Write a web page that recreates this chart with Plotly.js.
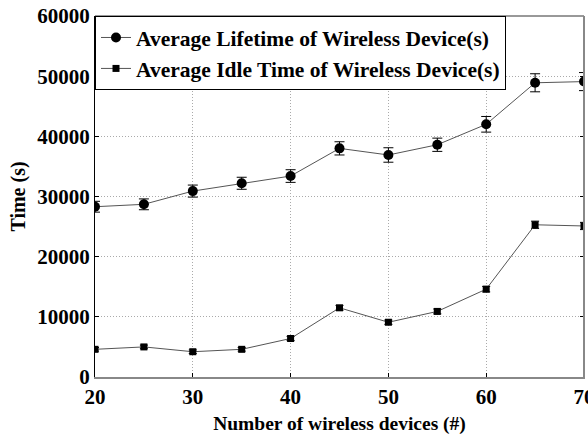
<!DOCTYPE html>
<html>
<head>
<meta charset="utf-8">
<script src="https://cdn.plot.ly/plotly-3.0.1.min.js"></script>
<style>html,body{margin:0;padding:0;background:#fff;}#chart{width:588px;height:437px;}</style>
</head>
<body>
<div id="chart"></div>
<script>
const devices = [20, 25, 30, 35, 40, 45, 50, 55, 60, 65, 70];
const lifetime = [28300, 28700, 30900, 32200, 33400, 38000, 36900, 38600, 42000, 48900, 49100];
const lifetimeErr = [900, 900, 1000, 1000, 1050, 1100, 1200, 1100, 1300, 1500, 1500];
const idle = [4600, 5000, 4200, 4600, 6400, 11500, 9100, 10900, 14600, 25300, 25100];
const idleErr = [300, 300, 300, 300, 350, 400, 350, 400, 450, 600, 600];
const seriesNames = ['Average Lifetime of Wireless Device(s)', 'Average Idle Time of Wireless Device(s)'];

const fam = 'Liberation Serif, Times New Roman, serif';
const f = (s) => ({family: fam, size: s, color: '#000', weight: 'bold'});

const traces = [
  {x: devices, y: lifetime, name: seriesNames[0], type: 'scatter', mode: 'lines+markers',
   line: {color: '#555', width: 1}, marker: {symbol: 'circle', size: 10, color: '#000'},
   error_y: {type: 'data', array: lifetimeErr, visible: true, color: '#000', thickness: 1, width: 5}},
  {x: devices, y: idle, name: seriesNames[1], type: 'scatter', mode: 'lines+markers',
   line: {color: '#555', width: 1}, marker: {symbol: 'square', size: 7, color: '#000'},
   error_y: {type: 'data', array: idleErr, visible: true, color: '#000', thickness: 1, width: 4}}
];

const layout = {
  width: 588, height: 437,
  margin: {l: 95, r: 4, t: 16, b: 60},
  paper_bgcolor: '#fff', plot_bgcolor: '#fff',
  font: f(19),
  showlegend: true,
  legend: {x: 0, y: 1, xanchor: 'left', yanchor: 'top', bgcolor: '#fff', bordercolor: '#000', borderwidth: 1,
           font: f(21.5), itemwidth: 30, tracegroupgap: 0},
  xaxis: {range: [20, 70], tickvals: [20, 30, 40, 50, 60, 70], ticks: 'inside', ticklen: 4, tickcolor: '#000',
          showline: true, linecolor: '#888', linewidth: 2, mirror: false, ticklabeloverflow: 'allow',
          showgrid: true, gridcolor: '#aaa', griddash: '1px,2px', gridwidth: 1, zeroline: false,
          tickfont: f(21),
          title: {text: 'Number of wireless devices (#)', standoff: 8, font: f(19.5)}},
  yaxis: {range: [0, 60000], dtick: 10000, ticks: 'inside', ticklen: 4, tickcolor: '#000',
          showline: true, linecolor: '#000', linewidth: 1, mirror: 'ticks',
          showgrid: true, gridcolor: '#aaa', griddash: '1px,2px', gridwidth: 1, zeroline: false,
          tickformat: 'd',
          tickfont: f(21),
          title: {text: 'Time (s)', standoff: 6, font: f(20)}},
  shapes: [
    {type: 'line', xref: 'paper', yref: 'paper', x0: 0, x1: 1, y0: 1, y1: 1, line: {color: '#333', width: 1}},
    {type: 'line', xref: 'paper', yref: 'paper', x0: 1, x1: 1, y0: 0, y1: 1, line: {color: '#888', width: 2}}
  ]
};

Plotly.newPlot('chart', traces, layout, {staticPlot: true, displayModeBar: false});
</script>
</body>
</html>
